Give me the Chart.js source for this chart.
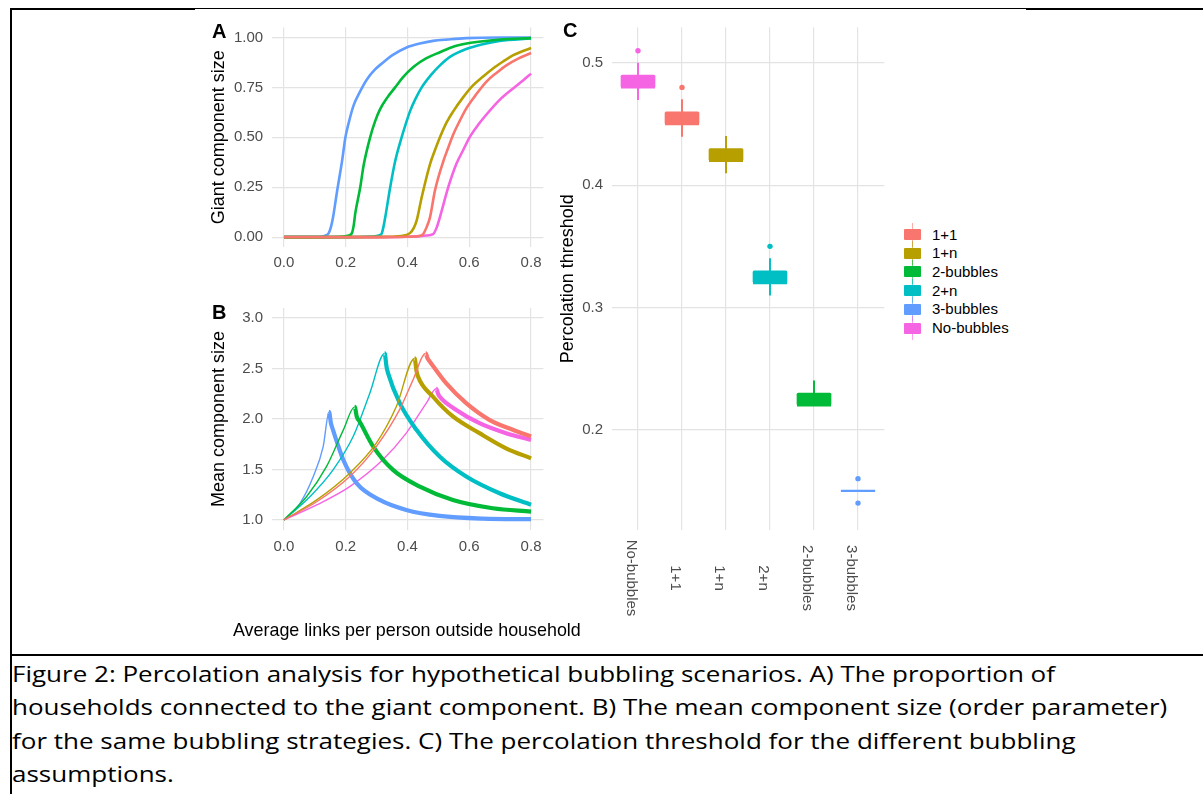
<!DOCTYPE html>
<html>
<head>
<meta charset="utf-8">
<title>Percolation analysis for hypothetical bubbling scenarios</title>
<script src="https://cdn.jsdelivr.net/npm/chart.js@4.4.1/dist/chart.umd.min.js"></script>
<style>
  html, body { margin: 0; padding: 0; background: #fff; }
  body { position: relative; width: 1203px; height: 794px; overflow: hidden; font-family: "Liberation Sans", Arial, sans-serif; }
  .rule { position: absolute; background: #000; }
  .panel { position: absolute; }
  .tag { position: absolute; font-weight: bold; font-size: 20px; line-height: 20px; color: #000; }
  #xTitle { position: absolute; left: 233px; top: 619px; font-size: 17.9px; line-height: 22px; color: #000; white-space: nowrap; }
  .key { position: absolute; left: 904px; height: 18px; font-size: 15px; line-height: 18px; color: #000; white-space: nowrap; }
  .key .swatch { position: absolute; left: 0; top: 3.5px; width: 17px; height: 11px; border-radius: 1px; }
  .key .whisker { position: absolute; left: 8px; top: -3px; width: 1px; height: 24px; opacity: 0.6; }
  .key span { position: absolute; left: 28px; top: 0; }
  #caption { position: absolute; left: 12px; top: 657px; font-family: "Open Sans", "Noto Sans", sans-serif; font-size: 22px; line-height: 33.3px; color: #000; transform-origin: 0 0; white-space: nowrap; }
</style>
</head>
<body>

<!-- page rules round the figure -->
<div class="rule" style="left:10px; top:8px; width:185px; height:2px"></div>
<div class="rule" style="left:195px; top:8px; width:831px; height:1px"></div>
<div class="rule" style="left:1026px; top:8px; width:177px; height:2px"></div>
<div class="rule" style="left:10px; top:8px; width:2px; height:786px"></div>
<div class="rule" style="left:10px; top:654px; width:1193px; height:2px"></div>

<div class="panel" style="left:200px; top:10px; width:350px; height:265px"><canvas id="giantChart"></canvas></div>
<div class="panel" style="left:200px; top:290px; width:350px; height:265px"><canvas id="meanChart"></canvas></div>
<div class="panel" style="left:550px; top:10px; width:345px; height:615px"><canvas id="thresholdChart"></canvas></div>

<div class="tag" style="left:212px; top:21px">A</div>
<div class="tag" style="left:212px; top:302px">B</div>
<div class="tag" style="left:563px; top:20px">C</div>
<div id="xTitle">Average links per person outside household</div>
<div id="legendC"></div>

<div id="caption">
  <div class="capline">Figure 2: Percolation analysis for hypothetical bubbling scenarios. A) The proportion of</div>
  <div class="capline">households connected to the giant component. B) The mean component size (order parameter)</div>
  <div class="capline">for the same bubbling strategies. C) The percolation threshold for the different bubbling</div>
  <div class="capline">assumptions.</div>
</div>

<script>
Chart.defaults.font.family = '"Liberation Sans", Arial, sans-serif';
Chart.defaults.color = '#4d4d4d';
Chart.defaults.animation = false;

// scenarios, in legend order, with ggplot hue colours
const scenarios = ['1+1', '1+n', '2-bubbles', '2+n', '3-bubbles', 'No-bubbles'];
const hues = ['#F8766D', '#B79F00', '#00BA38', '#00BFC4', '#619CFF', '#F564E3'];

// A) giant component size vs average links
const gcX11 = [0, 0.1, 0.2, 0.3, 0.4, 0.44, 0.451, 0.462, 0.473, 0.489, 0.516, 0.53, 0.548, 0.57, 0.591, 0.62, 0.655, 0.69, 0.72, 0.76, 0.8];
const gcY11 = [0, 0, 0, 0, 0.002, 0.006, 0.016, 0.05, 0.10, 0.234, 0.38, 0.44, 0.514, 0.585, 0.646, 0.71, 0.778, 0.825, 0.86, 0.895, 0.922];
const gcX1n = [0, 0.1, 0.2, 0.3, 0.38, 0.408, 0.42, 0.43, 0.446, 0.473, 0.49, 0.505, 0.525, 0.548, 0.58, 0.612, 0.645, 0.677, 0.71, 0.741, 0.77, 0.8];
const gcY1n = [0, 0, 0, 0.001, 0.006, 0.02, 0.045, 0.085, 0.20, 0.366, 0.44, 0.50, 0.57, 0.63, 0.70, 0.76, 0.805, 0.845, 0.88, 0.91, 0.93, 0.947];
const gcX2b = [0, 0.1, 0.18, 0.21, 0.22, 0.226, 0.231, 0.247, 0.258, 0.279, 0.295, 0.311, 0.335, 0.36, 0.385, 0.419, 0.46, 0.505, 0.55, 0.612, 0.7, 0.8];
const gcY2b = [0, 0, 0.002, 0.008, 0.02, 0.06, 0.12, 0.25, 0.36, 0.50, 0.58, 0.64, 0.70, 0.75, 0.80, 0.852, 0.895, 0.926, 0.955, 0.975, 0.99, 0.997];
const gcX2n = [0, 0.1, 0.2, 0.28, 0.31, 0.317, 0.322, 0.328, 0.344, 0.36, 0.381, 0.395, 0.408, 0.425, 0.446, 0.475, 0.505, 0.54, 0.59, 0.64, 0.698, 0.8];
const gcY2n = [0, 0, 0, 0.003, 0.01, 0.02, 0.05, 0.10, 0.25, 0.38, 0.50, 0.57, 0.63, 0.69, 0.75, 0.81, 0.86, 0.905, 0.942, 0.965, 0.983, 0.995];
const gcX3b = [0, 0.08, 0.12, 0.135, 0.145, 0.152, 0.159, 0.172, 0.188, 0.199, 0.21, 0.2255, 0.245, 0.2685, 0.295, 0.322, 0.35, 0.397, 0.44, 0.483, 0.53, 0.59, 0.7, 0.8];
const gcY3b = [0, 0, 0.002, 0.008, 0.02, 0.05, 0.10, 0.23, 0.38, 0.50, 0.575, 0.66, 0.725, 0.79, 0.84, 0.876, 0.91, 0.95, 0.97, 0.983, 0.99, 0.997, 1.0, 1.0];
const gcXnb = [0, 0.1, 0.2, 0.3, 0.42, 0.46, 0.483, 0.495, 0.505, 0.532, 0.558, 0.58, 0.601, 0.63, 0.655, 0.70, 0.746, 0.775, 0.8];
const gcYnb = [0, 0, 0, 0, 0.003, 0.008, 0.015, 0.05, 0.10, 0.25, 0.366, 0.435, 0.50, 0.565, 0.613, 0.69, 0.75, 0.786, 0.819];

// B) mean component size vs average links
const mcX11 = [0, 0.106, 0.213, 0.299, 0.374, 0.418, 0.459, 0.465, 0.472, 0.525, 0.59, 0.665, 0.741, 0.8];
const mcY11 = [1, 1.18, 1.43, 1.727, 2.09, 2.388, 2.65, 2.6, 2.57, 2.355, 2.157, 1.992, 1.893, 1.826];
const mcX1n = [0, 0.106, 0.213, 0.299, 0.364, 0.423, 0.429, 0.434, 0.482, 0.547, 0.633, 0.719, 0.8];
const mcY1n = [1, 1.198, 1.463, 1.76, 2.124, 2.6, 2.48, 2.42, 2.223, 2.025, 1.86, 1.71, 1.61];
const mcX2b = [0, 0.073, 0.138, 0.192, 0.229, 0.236, 0.245, 0.289, 0.353, 0.44, 0.547, 0.676, 0.8];
const mcY2b = [1, 1.23, 1.53, 1.89, 2.12, 2.02, 1.975, 1.727, 1.496, 1.33, 1.198, 1.116, 1.083];
const mcX2n = [0, 0.084, 0.159, 0.224, 0.278, 0.326, 0.332, 0.337, 0.375, 0.429, 0.504, 0.59, 0.698, 0.8];
const mcY2n = [1, 1.23, 1.496, 1.826, 2.256, 2.65, 2.52, 2.455, 2.157, 1.893, 1.628, 1.43, 1.264, 1.15];
const mcX3b = [0, 0.052, 0.095, 0.127, 0.146, 0.152, 0.159, 0.175, 0.192, 0.235, 0.31, 0.396, 0.504, 0.644, 0.8];
const mcY3b = [1, 1.165, 1.43, 1.727, 2.07, 1.96, 1.89, 1.74, 1.595, 1.364, 1.198, 1.099, 1.04, 1.013, 1.007];
const mcXnb = [0, 0.106, 0.213, 0.32, 0.396, 0.461, 0.493, 0.499, 0.504, 0.558, 0.633, 0.719, 0.8];
const mcYnb = [1, 1.149, 1.33, 1.595, 1.86, 2.157, 2.3, 2.25, 2.223, 2.09, 1.959, 1.86, 1.793];

const linkTicks = [0, 0.2, 0.4, 0.6, 0.8];
const giantTicks = [0, 0.25, 0.5, 0.75, 1];
const meanTicks = [1, 1.5, 2, 2.5, 3];

// C) percolation threshold box plots
const thresholdCats = ['No-bubbles', '1+1', '1+n', '2+n', '2-bubbles', '3-bubbles'];
const thresholdHues = ['#F564E3', '#F8766D', '#B79F00', '#00BFC4', '#00BA38', '#619CFF'];
const whiskerLow = [0.47, 0.44, 0.41, 0.31, 0.22, 0.15];
const boxLow = [0.48, 0.45, 0.42, 0.32, 0.22, 0.15];
const medians = [0.48, 0.45, 0.42, 0.32, 0.22, 0.15];
const boxHigh = [0.49, 0.46, 0.43, 0.33, 0.23, 0.15];
const whiskerHigh = [0.50, 0.47, 0.44, 0.34, 0.24, 0.15];
const outlierCat = ['No-bubbles', '1+1', '2+n', '3-bubbles', '3-bubbles'];
const outlierVal = [0.51, 0.48, 0.35, 0.16, 0.14];
const thresholdTicks = [0.2, 0.3, 0.4, 0.5];

const BOX_W = 34;
const GRID = '#e3e3e3';

const giantSeries = [[gcX11, gcY11], [gcX1n, gcY1n], [gcX2b, gcY2b], [gcX2n, gcY2n], [gcX3b, gcY3b], [gcXnb, gcYnb]];
const meanSeries = [[mcX11, mcY11], [mcX1n, mcY1n], [mcX2b, mcY2b], [mcX2n, mcY2n], [mcX3b, mcY3b], [mcXnb, mcYnb]];

function toPoints(xs, ys) {
    return xs.map(function(x, i) { return {x: x, y: ys[i]}; });
}

function linkScales(opts) {
    return {
        x: {
            type: 'linear', min: -0.04, max: 0.84,
            afterBuildTicks: function(s) { s.ticks = linkTicks.map(function(v) { return {value: v}; }); },
            afterFit: function(s) { s.height = opts.xHeight; },
            grid: {color: GRID, lineWidth: 1.2, drawTicks: false},
            border: {display: false},
            ticks: {padding: opts.xPad, font: {size: 15}, autoSkip: false, maxRotation: 0,
                    callback: function(v) { return v.toFixed(1); }}
        },
        y: {
            type: 'linear', min: opts.yMin, max: opts.yMax,
            afterBuildTicks: function(s) { s.ticks = opts.yTicks.map(function(v) { return {value: v}; }); },
            afterFit: function(s) { s.width = 71.6; },
            grid: {color: GRID, lineWidth: 1.2, drawTicks: false},
            border: {display: false},
            ticks: {padding: 8.5, font: {size: 15}, autoSkip: false,
                    callback: function(v) { return v.toFixed(opts.decimals); }},
            title: {display: true, text: opts.title, color: '#000', font: {size: 18}, padding: {top: 8, bottom: 0}}
        }
    };
}

// Panel A
new Chart(document.getElementById('giantChart'), {
    type: 'line',
    data: {
        datasets: giantSeries.map(function(s, i) {
            return {
                label: scenarios[i],
                data: toPoints(s[0], s[1]),
                borderColor: hues[i],
                borderWidth: 2.6,
                pointRadius: 0,
                cubicInterpolationMode: 'monotone'
            };
        })
    },
    options: {
        responsive: true,
        maintainAspectRatio: false,
        layout: {padding: {top: 14.9, right: 6.6, bottom: 0, left: 0}},
        plugins: {legend: {display: false}, tooltip: {enabled: false}},
        scales: linkScales({xHeight: 27.9, xPad: 7, yMin: -0.05, yMax: 1.05, yTicks: giantTicks, decimals: 2, title: 'Giant component size'})
    }
});

// Panel B - thin rising branch, thick noisy band after the peak
new Chart(document.getElementById('meanChart'), {
    type: 'line',
    data: {
        datasets: meanSeries.map(function(s, i) {
            var peakX = s[0][s[1].indexOf(Math.max.apply(null, s[1]))];
            return {
                label: scenarios[i],
                data: toPoints(s[0], s[1]),
                borderColor: hues[i],
                borderWidth: 1.4,
                pointRadius: 0,
                cubicInterpolationMode: 'monotone',
                segment: {
                    borderWidth: function(ctx) { return ctx.p0.parsed.x >= peakX ? 4.2 : 1.4; }
                }
            };
        })
    },
    options: {
        responsive: true,
        maintainAspectRatio: false,
        layout: {padding: {top: 18, right: 6.6, bottom: 0, left: 0}},
        plugins: {legend: {display: false}, tooltip: {enabled: false}},
        scales: linkScales({xHeight: 25, xPad: 8, yMin: 0.9, yMax: 3.1, yTicks: meanTicks, decimals: 1, title: 'Mean component size'})
    }
});

// medians and the rotated category labels of panel C
var boxExtras = {
    id: 'boxExtras',
    afterDatasetsDraw: function(chart) {
        var ctx = chart.ctx, x = chart.scales.x, y = chart.scales.y, area = chart.chartArea;
        ctx.save();
        ctx.lineWidth = 2.4;
        medians.forEach(function(m, i) {
            var cx = x.getPixelForValue(i + 1), py = y.getPixelForValue(m);
            ctx.strokeStyle = thresholdHues[i];
            ctx.beginPath();
            ctx.moveTo(cx - BOX_W / 2, py);
            ctx.lineTo(cx + BOX_W / 2, py);
            ctx.stroke();
        });
        ctx.font = '15px "Liberation Sans", Arial, sans-serif';
        ctx.fillStyle = '#4d4d4d';
        ctx.textAlign = 'center';
        ctx.textBaseline = 'alphabetic';
        thresholdCats.forEach(function(c, i) {
            ctx.save();
            ctx.translate(x.getPixelForValue(i + 1) - 11, area.bottom + 48);
            ctx.rotate(Math.PI / 2);
            ctx.fillText(c, 0, 0);
            ctx.restore();
        });
        ctx.restore();
    }
};

// Panel C
new Chart(document.getElementById('thresholdChart'), {
    type: 'bar',
    data: {
        datasets: [{
            label: 'whiskers',
            data: thresholdCats.map(function(c, i) { return {x: i + 1, y: [whiskerLow[i], whiskerHigh[i]]}; }),
            backgroundColor: thresholdHues,
            barThickness: 1.3,
            grouped: false
        }, {
            label: 'boxes',
            data: thresholdCats.map(function(c, i) { return {x: i + 1, y: [boxLow[i], boxHigh[i]]}; }),
            backgroundColor: thresholdHues,
            borderRadius: 1.5,
            borderSkipped: false,
            barThickness: BOX_W,
            grouped: false
        }, {
            type: 'scatter',
            label: 'outliers',
            data: outlierCat.map(function(c, i) { return {x: thresholdCats.indexOf(c) + 1, y: outlierVal[i]}; }),
            pointBackgroundColor: outlierCat.map(function(c) { return thresholdHues[thresholdCats.indexOf(c)]; }),
            pointBorderWidth: 0,
            pointRadius: 2.7
        }]
    },
    options: {
        responsive: true,
        maintainAspectRatio: false,
        layout: {padding: {top: 15.7, right: 10.6, bottom: 0, left: 0}},
        plugins: {legend: {display: false}, tooltip: {enabled: false}},
        scales: {
            x: {
                type: 'linear', min: 0.4, max: 6.6, offset: false,
                afterBuildTicks: function(s) { s.ticks = thresholdCats.map(function(c, i) { return {value: i + 1}; }); },
                afterFit: function(s) { s.height = 95; },
                grid: {color: GRID, lineWidth: 1.2, drawTicks: false, offset: false},
                border: {display: false},
                ticks: {display: false}
            },
            y: {
                type: 'linear', min: 0.118, max: 0.529,
                afterBuildTicks: function(s) { s.ticks = thresholdTicks.map(function(v) { return {value: v}; }); },
                afterFit: function(s) { s.width = 61.6; },
                grid: {color: GRID, lineWidth: 1.2, drawTicks: false},
                border: {display: false},
                ticks: {padding: 8.5, font: {size: 15}, callback: function(v) { return v.toFixed(1); }},
                title: {display: true, text: 'Percolation threshold', color: '#000', font: {size: 18}, padding: {top: 7, bottom: 0}}
            }
        }
    },
    plugins: [boxExtras]
});

// legend for panel C (alphabetical, like ggplot)
var legendBox = document.getElementById('legendC');
scenarios.forEach(function(name, i) {
    var key = document.createElement('div');
    key.className = 'key';
    key.style.top = (234.5 + i * 18.7 - 9) + 'px';
    key.innerHTML = '<div class="whisker" style="background:' + hues[i] + '"></div>' +
        '<div class="swatch" style="background:' + hues[i] + '"></div><span></span>';
    key.querySelector('span').textContent = name;
    legendBox.appendChild(key);
});

// squeeze the caption so its first line runs to the same width as the original
var cap = document.getElementById('caption');
var probe = document.createElement('span');
probe.textContent = cap.querySelector('.capline').textContent;
probe.style.whiteSpace = 'nowrap';
cap.appendChild(probe);
var k = 1043 / probe.getBoundingClientRect().width;
cap.removeChild(probe);
cap.style.transform = 'scaleX(' + k + ')';
</script>
</body>
</html>
